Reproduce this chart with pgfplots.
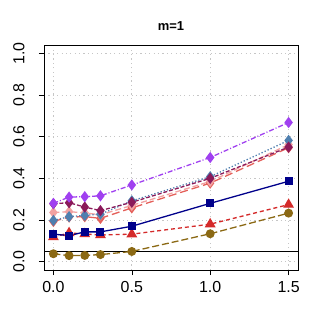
\documentclass[border=0pt]{standalone}
\usepackage{fontspec}
\setmainfont{Liberation Sans}
\usepackage{pgfplots}
\pgfplotsset{compat=1.18}

\definecolor{cpurple}{HTML}{A040F0}
\definecolor{cmagenta}{HTML}{8B1A5A}
\definecolor{csteel}{HTML}{4F7FAF}
\definecolor{cpink}{HTML}{F2A2A2}
\definecolor{cired}{HTML}{E4605A}
\definecolor{cnavy}{HTML}{00008B}
\definecolor{cfire}{HTML}{D42A2A}
\definecolor{cgold}{HTML}{8B6914}

\begin{document}
\begin{tikzpicture}
\begin{axis}[
  at={(0,0)}, anchor=south west,
  scale only axis,
  width=254bp, height=225bp,
  xmin=-0.06, xmax=1.56, ymin=-0.04, ymax=1.04,
  xtick={0,0.5,1,1.5}, ytick={0,0.2,0.4,0.6,0.8,1},
  xticklabels={0.0,0.5,1.0,1.5},
  yticklabels={0.0,0.2,0.4,0.6,0.8,1.0},
  tick align=outside, tick pos=left,
  major tick length=5bp,
  tick style={black, line width=0.6pt},
  axis line style={black, line width=0.8pt},
  grid=major, grid style={dash pattern=on 1.2pt off 3.2pt, gray!45, line width=1pt},
  tick label style={font=\fontsize{16}{16}\selectfont},
  xticklabel style={yshift=-3bp},
  yticklabel style={rotate=90, anchor=south, yshift=11bp},
  /pgf/number format/assume math mode=true,
  title={\bfseries m=1},
  title style={font=\fontsize{13}{14}\selectfont, yshift=5bp},
  every axis plot/.append style={line width=1.3pt},
]
\addplot[black, line width=0.8pt, forget plot] coordinates {(-0.06,0.05)(1.56,0.05)};
\addplot[cgold, dash pattern=on 7pt off 3pt, mark=*, mark size=3.8bp, mark options={solid}] coordinates {
  (0,0.038)(0.1,0.029)(0.2,0.030)(0.3,0.034)(0.5,0.049)(1.0,0.134)(1.5,0.233)};
\addplot[cfire, dash pattern=on 4pt off 3pt, mark=triangle*, mark size=5bp, mark options={solid}] coordinates {
  (0,0.118)(0.1,0.138)(0.2,0.133)(0.3,0.128)(0.5,0.132)(1.0,0.18)(1.5,0.274)};
\addplot[cnavy, solid, mark=square*, mark size=3.4bp] coordinates {
  (0,0.132)(0.1,0.125)(0.2,0.143)(0.3,0.143)(0.5,0.170)(1.0,0.28)(1.5,0.386)};
\addplot[cired, dash pattern=on 8pt off 4pt, mark=diamond*, mark size=4.6bp, mark options={solid}] coordinates {
  (0,0.193)(0.1,0.214)(0.2,0.216)(0.3,0.208)(0.5,0.258)(1.0,0.377)(1.5,0.547)};
\addplot[cpink, dash pattern=on 6pt off 3pt, mark=diamond*, mark size=4.6bp, mark options={solid}] coordinates {
  (0,0.236)(0.1,0.240)(0.2,0.234)(0.3,0.225)(0.5,0.270)(1.0,0.385)(1.5,0.562)};
\addplot[csteel, dotted, mark=diamond*, mark size=4.6bp, mark options={solid}] coordinates {
  (0,0.198)(0.1,0.216)(0.2,0.222)(0.3,0.228)(0.5,0.292)(1.0,0.408)(1.5,0.582)};
\addplot[cmagenta, dash pattern=on 4pt off 2pt, mark=diamond*, mark size=4.6bp, mark options={solid}] coordinates {
  (0,0.278)(0.1,0.283)(0.2,0.262)(0.3,0.245)(0.5,0.285)(1.0,0.40)(1.5,0.55)};
\addplot[cpurple, dash pattern=on 5pt off 2pt on 1pt off 2pt, mark=diamond*, mark size=4.6bp, mark options={solid}] coordinates {
  (0,0.28)(0.1,0.31)(0.2,0.312)(0.3,0.316)(0.5,0.368)(1.0,0.50)(1.5,0.668)};
\end{axis}
\path (-44bp,-57bp) rectangle (277bp,270bp);
\end{tikzpicture}
\end{document}
